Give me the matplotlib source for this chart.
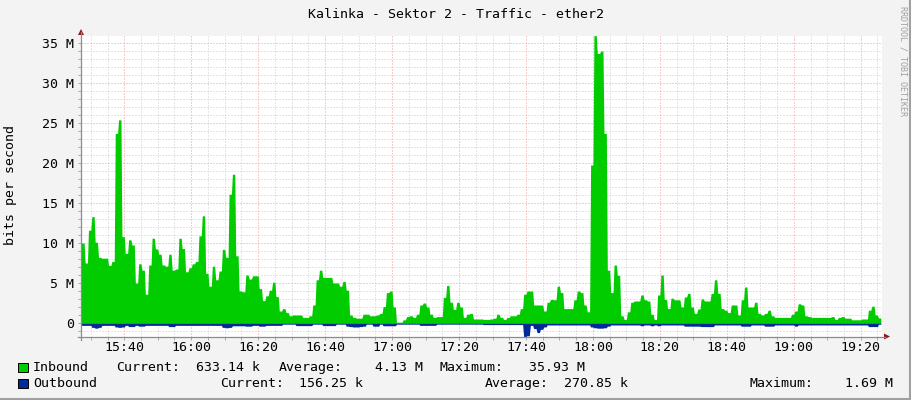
import numpy as np
import matplotlib
matplotlib.use("Agg")
import matplotlib.pyplot as plt
from matplotlib.lines import Line2D
from matplotlib.patches import Rectangle, Polygon
from matplotlib.ticker import MultipleLocator

W, H = 911, 400

# one sample per minute, first sample at 15:27 (minutes after 15:00)
start_min = 27

# inbound traffic, Mbit/s
inbound = [
    10.0, 7.5, 11.6, 13.3, 10.1, 8.2, 8.1, 8.1, 7.2, 7.7,
    23.7, 25.4, 10.8, 8.7, 10.4, 9.75, 5.0, 7.4, 6.6, 3.6,
    7.25, 10.6, 9.25, 8.6, 7.25, 7.1, 8.6, 6.6, 6.75, 10.6,
    9.3, 6.4, 6.9, 7.4, 7.7, 10.9, 13.4, 6.2, 4.6, 7.1,
    5.4, 6.5, 9.2, 8.2, 16.1, 18.6, 8.4, 4.0, 3.9, 6.0,
    5.5, 5.9, 5.9, 4.3, 2.8, 3.4, 4.1, 5.1, 3.3, 1.5,
    1.8, 1.3, 0.9, 1.0, 1.0, 1.0, 0.7, 0.7, 0.9, 2.25,
    5.4, 6.6, 5.7, 5.7, 5.7, 5.0, 5.0, 4.6, 5.2, 4.1,
    1.0, 0.7, 0.6, 0.6, 1.1, 1.1, 0.9, 0.9, 1.0, 1.2,
    2.05, 3.8, 4.0, 2.0, 0.1, 0.1, 0.4, 0.8, 0.9, 0.7,
    1.1, 2.25, 2.5, 2.0, 1.1, 0.7, 0.8, 0.8, 3.2, 4.7,
    2.6, 1.7, 2.6, 2.0, 0.7, 1.1, 1.2, 0.5, 0.5, 0.5,
    0.45, 0.45, 0.5, 0.6, 1.1, 0.7, 0.45, 0.7, 0.9, 0.9,
    1.1, 1.8, 3.6, 4.0, 4.0, 2.25, 2.25, 2.25, 1.5, 2.6,
    2.95, 2.9, 4.6, 3.8, 1.8, 1.8, 1.8, 2.9, 4.0, 3.8,
    2.25, 1.4, 19.75, 35.93, 33.7, 34.0, 23.7, 6.6, 3.8, 7.25,
    5.95, 0.9, 0.45, 1.4, 2.6, 2.75, 2.75, 3.5, 2.9, 2.75,
    1.1, 0.45, 3.5, 6.0, 2.95, 1.8, 3.1, 2.9, 2.9, 2.0,
    3.25, 3.7, 2.0, 1.2, 1.75, 3.0, 2.75, 2.75, 3.7, 5.4,
    3.7, 1.8, 1.6, 1.3, 2.25, 2.25, 1.0, 2.9, 4.5, 2.0,
    2.0, 2.6, 1.2, 1.0, 1.2, 1.6, 0.9, 0.7, 0.7, 0.7,
    0.7, 0.7, 1.1, 1.5, 2.4, 2.25, 0.9, 0.8, 0.7, 0.7,
    0.7, 0.7, 0.7, 0.7, 0.8, 0.45, 0.7, 0.8, 0.6, 0.6,
    0.4, 0.4, 0.4, 0.5, 0.5, 1.6, 2.1, 1.0, 0.63,
]

# outbound traffic, Mbit/s (drawn below zero)
outbound = [
    0.3, 0.3, 0.3, 0.55, 0.65, 0.55, 0.3, 0.3, 0.3, 0.3,
    0.5, 0.55, 0.5, 0.3, 0.45, 0.45, 0.3, 0.4, 0.4, 0.3,
    0.3, 0.3, 0.3, 0.3, 0.3, 0.3, 0.45, 0.45, 0.3, 0.3,
    0.3, 0.3, 0.3, 0.3, 0.3, 0.3, 0.3, 0.3, 0.3, 0.3,
    0.3, 0.3, 0.55, 0.6, 0.55, 0.35, 0.35, 0.35, 0.35, 0.4,
    0.4, 0.3, 0.3, 0.4, 0.4, 0.3, 0.3, 0.3, 0.3, 0.3,
    0.15, 0.15, 0.15, 0.15, 0.33, 0.33, 0.33, 0.33, 0.33, 0.15,
    0.15, 0.15, 0.33, 0.33, 0.33, 0.33, 0.15, 0.15, 0.15, 0.4,
    0.45, 0.5, 0.5, 0.45, 0.4, 0.15, 0.15, 0.4, 0.4, 0.15,
    0.35, 0.35, 0.35, 0.35, 0.15, 0.15, 0.15, 0.15, 0.15, 0.15,
    0.15, 0.3, 0.3, 0.3, 0.3, 0.3, 0.15, 0.15, 0.15, 0.15,
    0.15, 0.15, 0.15, 0.15, 0.15, 0.15, 0.15, 0.15, 0.15, 0.15,
    0.2, 0.2, 0.2, 0.2, 0.2, 0.2, 0.2, 0.2, 0.2, 0.2,
    0.2, 0.2, 1.69, 1.6, 0.3, 0.7, 1.2, 0.8, 0.5, 0.25,
    0.25, 0.25, 0.25, 0.25, 0.25, 0.25, 0.25, 0.25, 0.25, 0.25,
    0.25, 0.25, 0.5, 0.6, 0.65, 0.65, 0.6, 0.4, 0.25, 0.25,
    0.25, 0.25, 0.25, 0.25, 0.25, 0.25, 0.25, 0.35, 0.25, 0.25,
    0.35, 0.25, 0.35, 0.25, 0.25, 0.25, 0.25, 0.25, 0.25, 0.25,
    0.4, 0.4, 0.4, 0.4, 0.4, 0.45, 0.45, 0.45, 0.45, 0.25,
    0.25, 0.25, 0.25, 0.25, 0.25, 0.25, 0.25, 0.4, 0.4, 0.4,
    0.25, 0.25, 0.25, 0.25, 0.4, 0.4, 0.4, 0.25, 0.25, 0.25,
    0.25, 0.25, 0.25, 0.4, 0.25, 0.25, 0.25, 0.25, 0.25, 0.25,
    0.25, 0.25, 0.25, 0.25, 0.25, 0.25, 0.25, 0.25, 0.25, 0.25,
    0.25, 0.25, 0.25, 0.25, 0.25, 0.45, 0.45, 0.45, 0.16,
]

xtick_min = [40, 60, 80, 100, 120, 140, 160, 180, 200, 220, 240, 260]
xtick_lab = ['15:40', '16:00', '16:20', '16:40', '17:00', '17:20', '17:40',
             '18:00', '18:20', '18:40', '19:00', '19:20']
ytick_val = [0, 5, 10, 15, 20, 25, 30, 35]
ytick_lab = ['0', '5 M', '10 M', '15 M', '20 M', '25 M', '30 M', '35 M']

title = "Kalinka - Sektor 2 - Traffic - ether2"
row1 = [("Inbound", 33), ("Current:", 116), ("633.14 k", 196), ("Average:", 279),
        ("4.13 M", 375), ("Maximum:", 440), ("35.93 M", 529)]
row2 = [("Outbound", 33), ("Current:", 220), ("156.25 k", 299), ("Average:", 485),
        ("270.85 k", 564), ("Maximum:", 750), ("1.69 M", 845)]

green = '#00cc00'
blue = '#002a97'
back = '#f3f3f3'
arrow_c = '#8b1a1a'
axis_c = '#8c8c8c'

plt.rcParams['font.family'] = 'DejaVu Sans Mono'
plt.rcParams['font.size'] = 9.5


def fx(x):
    return x / W


def fy(y):
    return 1 - y / H


def ramp_steps(vals, t0, ramp=0.3):
    # each sample holds for one minute, with a short ramp from the previous one
    t = t0 + np.arange(len(vals))
    xs = np.column_stack([t + ramp, t + 1]).ravel()
    xs[0] = t0
    ys = np.repeat(np.asarray(vals, dtype=float), 2)
    return xs, ys


fig = plt.figure(figsize=(W / 100, H / 100), dpi=100, facecolor=back)

left, right, top, bottom = 81, 881.5, 35.6, 336.5
ax = fig.add_axes([fx(left), fy(bottom), (right - left) / W, (bottom - top) / H])
ax.set_facecolor('white')

xi, yi = ramp_steps(inbound, start_min)
xo, yo = ramp_steps(outbound, start_min)
ax.fill_between(xi, 0, yi, color=green, lw=0, zorder=3)
ax.fill_between(xo, 0, -yo, color=blue, lw=0, zorder=3)

ax.set_xlim(27.07, 266.2)
ax.set_ylim(-1.69, 35.93)

ax.set_xticks(xtick_min)
ax.set_xticklabels(xtick_lab)
ax.xaxis.set_minor_locator(MultipleLocator(5))
ax.set_yticks(ytick_val)
ax.set_yticklabels(ytick_lab)
ax.yaxis.set_minor_locator(MultipleLocator(1))

ax.set_axisbelow(True)
ax.grid(which='minor', color='#cccccc', linestyle=(0, (1, 2)), linewidth=0.72)
ax.grid(which='major', color='#f09a9a', linestyle=(0, (1, 2)), linewidth=0.72)
ax.tick_params(which='both', length=2, width=0.7, color='#aaaaaa', direction='out')
ax.tick_params(axis='y', pad=3)
ax.tick_params(axis='x', pad=1.5)
for s in ax.spines.values():
    s.set_visible(False)

# axis lines with arrows, rrdtool style
fig.add_artist(Line2D([fx(78), fx(885)], [fy(bottom), fy(bottom)], color=axis_c, lw=0.9))
fig.add_artist(Line2D([fx(left), fx(left)], [fy(340), fy(32)], color=axis_c, lw=0.9))
fig.add_artist(Polygon([[fx(884), fy(333.5)], [fx(890), fy(bottom)], [fx(884), fy(339.5)]],
                       closed=True, color=arrow_c, lw=0))
fig.add_artist(Polygon([[fx(78), fy(35)], [fx(left), fy(29)], [fx(84), fy(35)]],
                       closed=True, color=arrow_c, lw=0))

fig.text(fx(456), fy(14), title, ha='center', va='center')
fig.text(fx(11), fy(185), "bits per second", rotation=90, ha='center', va='center')
fig.text(fx(902.5), fy(61), "RRDTOOL / TOBI OETIKER", rotation=270, ha='center',
         va='center', fontsize=6, color='#a0a0a0')

for (txt, x) in row1:
    fig.text(fx(x), fy(367.5), txt, ha='left', va='center')
for (txt, x) in row2:
    fig.text(fx(x), fy(383.5), txt, ha='left', va='center')
fig.add_artist(Rectangle((fx(17.5), fy(372)), 10 / W, 9 / H, facecolor=green,
                         edgecolor='black', lw=0.7))
fig.add_artist(Rectangle((fx(17.5), fy(388)), 10 / W, 9 / H, facecolor=blue,
                         edgecolor='black', lw=0.7))

# frame shadow at the bottom and right edge
fig.add_artist(Line2D([0, 1], [fy(399), fy(399)], color='#a0a0a0', lw=1.5))
fig.add_artist(Line2D([fx(910), fx(910)], [0, 1], color='#a0a0a0', lw=1.5))

fig.savefig('out.png', dpi=100, facecolor=back)
